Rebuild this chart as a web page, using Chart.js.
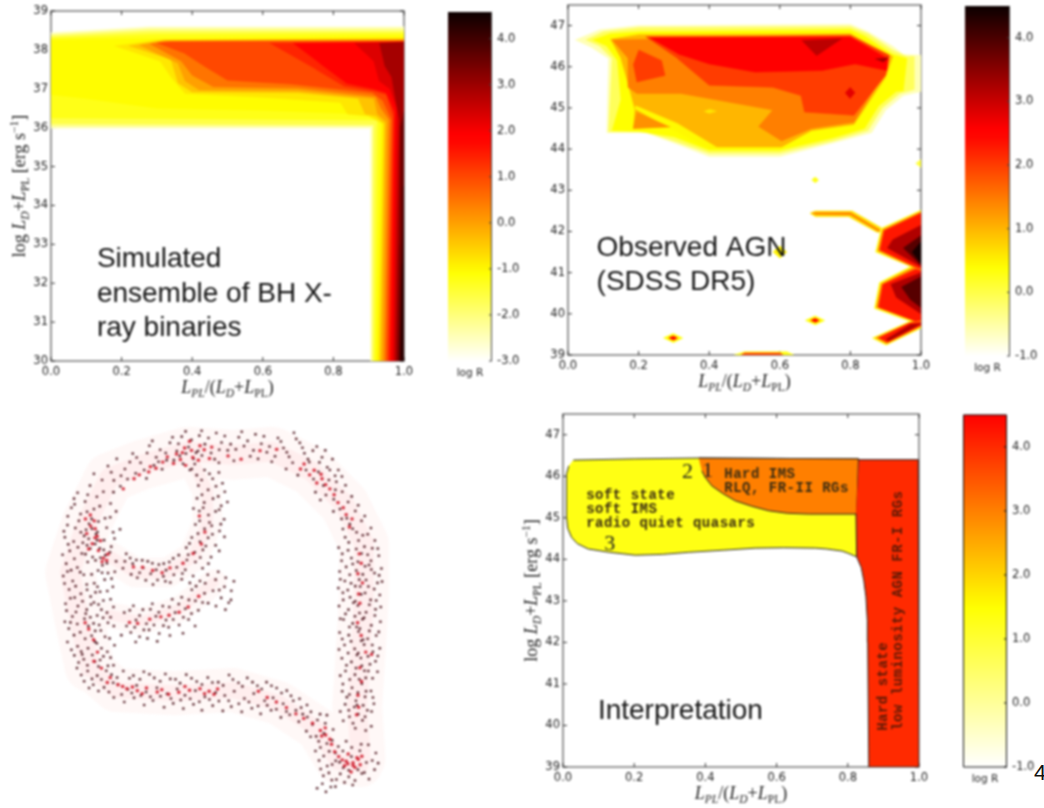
<!DOCTYPE html>
<html>
<head>
<meta charset="utf-8">
<title>log R panels</title>
<script src="https://cdn.jsdelivr.net/npm/chart.js@4/dist/chart.umd.js"></script>
<style>
    body { margin: 0; background: #fff; width: 1044px; height: 808px; overflow: hidden; position: relative; }
    canvas { position: absolute; filter: blur(0.8px); }
    #pageNo { position: absolute; left: 1034px; top: 760px; font: 22px "Liberation Sans"; color: #111; }
</style>
</head>
<body>
<div id="pageNo">4</div>
<script>
// axis ticks
const xTicks = [0, 0.2, 0.4, 0.6, 0.8, 1];
const simTicks = [30, 31, 32, 33, 34, 35, 36, 37, 38, 39];
const agnTicks = [39, 40, 41, 42, 43, 44, 45, 46, 47];
const simBarTicks = [-3, -2, -1, 0, 1, 2, 3, 4];
const agnBarTicks = [-1, 0, 1, 2, 3, 4];

// axis titles as [text, face, shift]  (shift 1 = subscript, 2 = superscript)
const xTitle = [['L', 'i', 0], ['PL', 'i', 1], ['/(', 'r', 0], ['L', 'i', 0], ['D', 'i', 1], ['+', 'r', 0], ['L', 'i', 0], ['PL', 'r', 1], [')', 'r', 0]];
const yTitle = [['log ', 'r', 0], ['L', 'i', 0], ['D', 'i', 1], ['+', 'r', 0], ['L', 'i', 0], ['PL', 'r', 1], [' [erg s', 'r', 0], ['\u22121', 'r', 2], [']', 'r', 0]];

// simulated binaries: contour level and outline (x, y, x, y, ...)
const simLevels = [-2.6, -2.1, -1.6, -1.25, -1.05, -0.8, -0.4, 0, 0.5, 1.0, 1.4, 1.8, 2.3, 2.9, 3.5, 4.2];
const simShapes = [
    [0,38.45, .28,38.6, 1,38.6, 1,30, .905,30, .905,35.98, 0,35.98],
    [0,38.4, .28,38.55, 1,38.55, 1,30, .908,30, .91,36.03, 0,36.03],
    [0,38.35, .28,38.48, 1,38.48, 1,30, .912,30, .915,36.08, 0,36.1],
    [0,38.3, .3,38.4, 1,38.42, 1,30, .917,30, .925,36.2, 0,36.25],
    [0,38.25, .2,38.28, 1,38.35, 1,30, .922,30, .935,36.25, .88,36.35, .6,36.45, .3,36.5, .1,36.75, 0,36.85],
    [.18,38.1, .3,38.25, 1,38.3, 1,30, .927,30, .94,36.1, .9,36.3, .84,36.35, .82,36.65, .6,36.78, .38,36.88, .34,37.3, .31,37.7],
    [.22,38.1, .32,38.25, 1,38.28, 1,30, .932,30, .945,36.1, .92,36.3, .89,36.35, .87,36.75, .7,36.9, .4,36.92, .36,37.15, .34,37.75],
    [.25,38.12, .32,38.23, 1,38.26, 1,30, .937,30, .95,36.15, .925,36.35, .915,36.75, .7,36.95, .42,36.97, .38,37.2, .36,37.65],
    [.28,38.15, .33,38.22, 1,38.24, 1,30, .944,30, .958,36.2, .935,36.5, .92,36.8, .7,37.02, .46,37.05, .4,37.35, .37,37.7],
    [.3,38.18, .34,38.2, 1,38.22, 1,30, .95,30, .965,36.2, .94,36.7, .91,36.9, .68,37.12, .5,37.22, .44,37.55, .38,37.9],
    [.62,38.17, 1,38.2, 1,30, .956,30, .97,36.3, .95,36.85, .913,36.95, .83,37.07, .75,37.5],
    [.686,38.17, 1,38.2, 1,30, .961,30, .974,36.4, .95,36.9, .913,37, .838,37.14, .762,37.65],
    [.86,38.17, 1,38.2, 1,30, .968,30, .98,36.5, .96,37, .93,37.2, .915,37.7],
    [.93,38.17, 1,38.2, 1,30, .975,30, .987,36.2, .965,37.3, .945,37.6],
    [.99,36, 1,36.4, 1,30, .982,30, .988,33],
    [1,34.5, 1,30, .989,30, .995,32.5]
];

// observed AGN contours
const agnLevels = [-0.6, -0.1, 0.4, 1.0, 0.45, 1.3, 1.45, 2.0, 2.0, 2.5, 3.1, 3.3, 2.8, 0.6,
    0.6, 1.4, 0.4, 2.5, 0.4, 2.5, 0.3, 0.1, 0.5, 0.3, 2.0,
    0.0, 0.5, 1.4, 2.3, 2.3, 2.3, 3.2, 3.2, 3.2, 3.9, 3.9, 4.4];
const agnShapes = [
    [.02,46.65, .09,46.9, .2,47, .8,47.03, .85,46.85, .92,46.5, .95,46.3, 1,46.28, 1,45.4, .95,45.3, .9,44.95, .86,44.4, .75,44.15, .6,43.82, .4,43.82, .3,44.15, .22,44.4, .11,44.4, .115,46.2, .07,46.45],
    [.05,46.65, .1,46.85, .2,46.95, .8,46.97, .85,46.8, .92,46.4, .96,46.25, .98,46.25, .98,45.45, .94,45.35, .89,45, .85,44.45, .75,44.2, .6,43.9, .4,43.9, .3,44.2, .22,44.42, .115,44.42, .125,46.2, .09,46.5],
    [.07,46.65, .12,46.8, .2,46.85, .8,46.9, .84,46.75, .92,46.3, .94,46.25, .96,46.2, .95,45.42, .93,45.4, .88,45.05, .84,44.5, .75,44.27, .6,43.97, .4,43.97, .3,44.3, .2,44.43, .125,44.45, .15,45.2, .14,46.15, .11,46.5],
    [.12,46.67, .2,46.78, .8,46.8, .92,46.25, .9,45.75, .81,44.6, .69,44.45, .605,44.05, .4,44.05, .29,44.55, .185,44.5, .19,44.95, .17,45.6, .15,46.2],
    [.19,45.05, .2,45.02, .31,44.62, .42,44.05, .39,44.05, .28,44.55, .19,44.98],
    [.195,44.9, .185,44.5, .29,44.54],
    [.125,46.65, .8,46.78, .91,46.25, .89,45.75, .81,44.65, .69,44.5, .605,44.2, .54,44.55, .58,44.95, .45,45.15, .32,45.35, .195,45.35, .17,45.5, .17,46.2],
    [.22,46.73, .8,46.75, .91,46.28, .9,45.8, .81,44.82, .67,44.9, .66,45.3, .58,45.5, .4,45.55, .31,46.2],
    [.2,46.41, .265,46.15, .275,45.79, .195,45.63, .185,46.07],
    [.232,46.7, .8,46.72, .907,46.19, .903,45.91, .813,46.07, .72,45.91, .53,45.87, .4,46.07, .312,46.31],
    [.662,46.64, .775,46.68, .704,46.27],
    [.87,46.19, .907,46.22, .893,46.11],
    [.785,45.37, .799,45.23, .813,45.37, .799,45.5],
    [.385,44.92, .4,44.87, .42,44.92, .4,44.97],
    [.685,42.44, .7,42.5, .805,42.5, .89,42.08, .89,41.98, .875,41.98, .795,42.36, .7,42.36],
    [.69,42.44, .7,42.46, .8,42.46, .885,42.03, .88,42, .8,42.4, .7,42.41],
    [.27,39.41, .298,39.52, .325,39.41, .298,39.3],
    [.285,39.41, .298,39.46, .31,39.41, .298,39.36],
    [.672,39.84, .7,39.95, .727,39.84, .7,39.73],
    [.687,39.84, .7,39.89, .712,39.84, .7,39.79],
    [.69,43.25, .7,43.32, .71,43.25, .7,43.18],
    [.985,43.65, 1,43.75, 1,43.55],
    [.58,41.5, .6,41.65, .62,41.5, .6,41.35],
    [.47,39, .5,39.08, .62,39.08, .64,39],
    [.49,39, .5,39.05, .6,39.05, .61,39],
    [1,42.52, .887,42.08, .871,41.5, .97,41.15, .882,40.76, .868,40.13, .967,39.82, .862,39.41, .9,39.24, 1,39.65],
    [1,42.5, .889,42.06, .874,41.51, .974,41.15, .884,40.75, .87,40.14, .974,39.82, .865,39.41, .903,39.25, 1,39.66],
    [1,42.48, .892,42.05, .878,41.53, .98,41.13, .888,40.73, .874,40.16, .98,39.83, .872,39.42, .903,39.28, 1,39.69],
    [1,42.44, .896,42.02, .884,41.55, .99,41.12, 1,41.1],
    [1,41.05, .985,41.08, .892,40.71, .88,40.16, .985,39.82, 1,39.85],
    [.88,39.42, .905,39.31, 1,39.72, 1,39.8, .965,39.77],
    [1,42.15, .92,41.8, .905,41.6, 1,41.15],
    [1,41, .915,40.72, .93,40.4, 1,40],
    [.9,39.38, .91,39.35, 1,39.76, .97,39.74],
    [1,41.9, .95,41.6, 1,41.18],
    [1,40.9, .945,40.65, .97,40.35, 1,40.15],
    [1,41.75, .975,41.5, 1,41.22]
];

// interpretation regions
const mapLevels = [1.3, 3.0, 4.0];
const mapShapes = [
    [.029,46.39, .2,46.42, .381,46.44, .6,46.43, .83,46.42, .825,44.06, .8,44.15, .784,44.2, .74,44.25, .709,44.27, .62,44.28, .54,44.27, .45,44.22, .353,44.17, .28,44.12, .203,44.1, .13,44.17, .071,44.25, .04,44.38, .024,44.53, .013,44.75, .01,45, .009,45.5, .01,46.05, .016,46.25],
    [.381,46.44, .6,46.43, .83,46.42, .825,45.09, .69,45.09, .63,45.11, .578,45.17, .53,45.28, .484,45.41, .45,45.58, .418,45.77, .4,45.97, .39,46.13],
    [.831,46.4, .998,46.4, 1,39, .859,39, .856,42, .855,42.52, .851,43.1, .845,43.49, .838,43.8, .825,44.06, .823,45.1]
];

// free text on the panels: text, x, y at baseline
const simNotes = [['Simulated', .13, 32.42], ['ensemble of BH X-', .13, 31.52], ['ray binaries', .13, 30.64]];
const agnNotes = [['Observed AGN', .081, 41.4], ['(SDSS DR5)', .081, 40.58]];
const mapNotes = [['Interpretation', .098, 40.15]];
const mapStates = [
    ['soft state', .065, 45.45], ['soft IMS', .065, 45.11], ['radio quiet quasars', .065, 44.77],
    ['Hard IMS', .453, 45.97], ['RLQ, FR-II RGs', .453, 45.61]
];
const mapStatesTurned = [['Hard state', .911, 39.87], ['low luminosity AGN FR-I RGs', .953, 39.87]];
const mapNumbers = [['2', .334, 45.97], ['1', .391, 45.99], ['3', .116, 44.23]];

// the outline figure, bands the dots follow
const hazeRing = [14,76, 11,62, 8,47, 13,32, 20,18, 30,14, 44,10, 58,11, 70,10, 82,16, 92,26, 98,38, 98,55, 97,72, 96,88, 97,104];
const hazeBase = [14,76, 22,83, 40,84, 58,83, 72,87, 84,95, 90,105, 97,106];
const hazeLoop = [45,12, 50,22, 50,32, 46,42, 38,47, 28,47, 20,42];
const hazeArm = [20,60, 30,62, 42,58, 52,50];

// dark dots
const dotsLeft = [
    10.3,22.6, 14.1,20.4, 17.8,18.7, 12.6,25.3, 16.2,23.8, 20.4,25.9, 8.4,27.2, 11.2,29.1, 15.3,27.6, 18.7,30.4, 22.1,28.3, 7.2,32.5, 9.6,33.4, 13.8,32.1, 16.4,34.6, 19.2,33.3, 23.3,33.8,
    6.4,36.2, 9.1,37.5, 12.3,35.8, 15.7,38.3, 18.4,37.1, 21.6,36.6, 7.9,40.4, 11.6,41.2, 14.2,39.7, 17.3,42.5, 20.2,40.8, 6.8,44.3, 10.2,45.5, 13.4,43.8, 16.6,46.4, 19.3,44.2, 21.7,46.8,
    5.9,48.1, 8.8,49.6, 12.2,47.7, 15.4,50.3, 18.6,49.2, 21.1,51.4, 7.7,52.2, 11.3,53.5, 14.3,54.4, 17.2,52.9, 20.4,55.2, 6.6,56.6, 10.4,57.3, 13.1,58.4, 16.7,56.8, 19.3,59.3, 8.7,60.5,
    12.4,61.2, 15.2,62.6, 18.1,60.9, 21.4,63.4, 7.6,64.2, 11.1,65.3, 14.6,66.4, 17.4,64.8, 20.1,67.2, 7.2,68.3, 10.3,69.6, 13.5,70.2, 16.2,68.7, 19.4,71.3, 9.3,72.4, 12.2,73.6, 15.6,74.3,
    18.2,72.7, 21.3,75.4, 10.1,76.3, 13.4,77.2, 16.3,78.6, 19.1,77.1, 22.4,79.2, 12.3,80.3, 15.1,81.4, 18.4,82.2, 21.2,80.8, 9.2,24.4, 11.9,37.9, 8.3,46.3, 9.4,54.7, 8.1,62.3, 11.7,72.1,
    13.2,28.4, 14.6,30.6, 15.9,35.2, 17.1,39.6, 18.8,41.7, 17.9,44.8, 13.7,36.7, 12.9,33.9, 16.7,31.4, 14.9,42.3, 19.6,47.2, 13.1,50.7, 15.8,53.1, 14.4,56.8, 16.3,60.2, 13.6,63.4, 15.7,64.9, 17.6,70.2,
    9.4,26.1, 13.4,23.2, 17.1,26.7, 21.3,22.4, 7.3,29.8, 10.7,31.2, 20.3,30.1, 6.1,34.4, 11.3,34.7, 14.7,33.6, 21.2,34.7, 7.4,38.4, 10.4,39.3, 13.2,38.7, 16.3,37.1, 20.6,39.1, 5.7,41.6, 9.3,42.8,
    12.7,41.4, 15.8,43.3, 18.3,40.1, 22.1,43.6, 7.2,46.7, 11.1,46.9, 14.6,47.6, 17.8,47.1, 20.7,48.9, 6.3,50.4, 9.7,51.2, 13.2,52.3, 16.4,51.4, 19.4,52.7, 8.1,54.9, 11.8,55.8, 15.3,56.2, 18.2,55.6,
    21.3,57.6, 6.9,58.7, 9.8,59.1, 12.8,59.6, 17.6,58.4, 20.4,60.7, 6.4,62.1, 10.2,62.8, 14.2,60.7, 16.9,63.1, 19.6,62.4, 9.2,66.2, 12.6,67.3, 15.6,68.2, 18.7,66.7, 21.6,69.3, 8.4,70.7, 11.4,71.2,
    14.8,72.3, 17.2,73.8, 20.4,73.1, 10.6,74.6, 13.3,75.4, 16.7,75.8, 19.6,75.6, 11.4,78.4, 14.7,79.6, 17.6,79.8, 20.7,78.3, 13.8,82.4, 16.7,83.3, 19.9,83.6
];
const dotsTop = [
    19.6,14.4, 22.3,12.2, 24.8,15.3, 27.2,10.6, 29.6,13.4, 32.3,8.2, 34.4,11.7, 36.2,15.4, 38.6,7.3, 40.7,9.8, 42.2,5.4, 44.3,8.6, 45.8,12.2, 47.6,5.1, 49.3,7.7, 51.2,10.4, 52.8,4.3, 54.4,7.2, 56.3,9.6, 58.2,12.8,
    59.7,5.6, 61.3,8.3, 63.2,11.4, 64.8,4.7, 66.6,7.6, 68.3,10.2, 69.8,13.1, 71.7,5.8, 73.4,8.9, 75.1,11.6, 76.6,4.2, 78.4,7.3, 79.8,10.5, 81.3,13.2, 83.6,8.4, 85.2,11.7, 86.8,14.8, 88.4,12.3, 90.2,15.6,
    25.6,18.4, 28.1,16.6, 31.4,18.2, 33.7,14.2, 21.4,18.8, 23.4,20.6, 18.2,22.3, 15.3,16.8, 42.6,13.7, 44.7,15.6, 39.8,12.6, 37.3,10.4, 35.1,13.1, 47.2,9.8, 41.6,11.3, 43.5,10.6, 46.2,13.8,
    48.4,11.2, 53.6,13.4, 74.2,15.3, 77.8,17.2, 80.3,15.6, 82.6,18.4, 84.1,16.2, 87.3,18.7, 85.6,20.4, 89.6,19.2, 83.2,22.4, 91.4,22.3, 88.8,24.6, 93.2,25.4, 95.4,28.2, 90.7,27.6, 92.8,30.4, 97.3,31.2, 94.6,33.6, 99.2,35.3, 91.6,33.7, 96.4,37.2, 93.4,37.8, 100.6,39.6, 98.2,39.1,
    20.6,16.3, 23.6,17.4, 26.3,13.2, 28.4,11.8, 30.7,15.6, 31.6,10.4, 33.2,6.7, 35.6,9.4, 37.6,12.6, 39.4,5.6, 41.2,7.6, 43.4,3.8, 45.2,6.4, 46.6,10.3, 48.3,3.6, 50.4,5.8, 52.3,12.3, 53.7,9.4, 55.4,5.2, 57.2,7.7,
    58.8,9.3, 60.6,3.9, 62.4,6.7, 64.2,9.6, 65.6,12.2, 67.4,5.3, 69.1,8.4, 70.8,11.4, 72.6,6.9, 74.4,10.2, 76.2,13.4, 77.3,6.1, 79.2,8.8, 80.9,12.3, 82.4,9.7, 84.4,13.3, 86.2,9.6, 87.6,15.6, 89.2,17.4, 91.3,17.6,
    86.4,23.3, 84.7,24.8, 89.3,21.7, 92.4,20.3, 94.3,23.7, 96.3,26.4, 88.7,28.3, 91.2,30.6, 93.7,32.2, 98.3,29.7, 95.8,34.7, 100.2,33.4, 92.3,36.2, 97.7,35.6, 101.4,37.2
];
const dotsRight = [
    91.4,41.3, 94.2,42.6, 97.3,41.2, 100.2,43.4, 102.6,41.9, 92.6,45.3, 95.7,46.4, 98.4,45.1, 101.3,47.2, 103.4,45.8, 90.8,49.1, 94.1,50.3, 96.6,49.2, 99.4,51.3, 102.2,50.2, 91.6,53.2, 93.8,54.6, 97.2,53.7,
    100.1,55.4, 102.9,53.9, 90.4,57.3, 93.3,58.4, 96.2,57.1, 98.7,59.2, 101.6,58.3, 91.8,61.4, 94.6,62.6, 97.6,61.3, 100.3,63.2, 103.1,62.1, 90.6,65.4, 93.4,66.2, 96.4,65.1, 99.2,67.3, 101.8,66.3,
    92.1,69.2, 95.2,70.4, 98.1,69.1, 100.8,71.3, 102.9,70.2, 91.3,73.3, 94.2,74.4, 97.1,73.2, 99.9,75.1, 101.6,74.2, 92.4,77.2, 95.3,78.3, 98.2,77.1, 100.7,79.4, 91.6,81.2, 94.4,82.3, 97.4,81.1,
    100.2,83.3, 92.8,85.2, 95.6,86.3, 98.4,85.1, 101.1,87.2, 93.4,89.2, 96.3,90.4, 99.1,89.2, 91.7,92.4, 94.7,93.2, 97.6,92.3, 100.3,94.1, 96.2,43.7, 97.7,47.6, 96.9,51.3, 95.4,55.8, 96.7,59.4, 95.8,63.7, 97.8,67.6, 96.3,71.7, 97.4,75.6, 96.6,79.7, 96.2,83.8, 95.9,87.6,
    90.3,39.4, 93.2,40.2, 95.7,39.8, 99.2,41.6, 102.3,39.7, 91.2,43.4, 94.6,44.4, 99.6,44.7, 90.6,46.7, 93.7,47.7, 100.3,46.1, 102.7,47.9, 92.2,49.6, 95.4,51.2, 98.7,49.3, 101.2,52.1, 103.6,49.8, 90.2,51.8, 93.1,52.4,
    98.4,53.3, 101.8,55.6, 91.7,55.4, 94.8,56.3, 99.7,56.9, 103.2,57.6, 92.4,59.7, 95.3,60.4, 98.1,60.9, 101.4,60.2, 90.8,61.2, 93.6,63.7, 96.8,64.2, 99.7,64.9, 102.6,65.2, 91.4,67.4, 94.1,68.1, 97.2,67.9, 100.6,69.2,
    90.4,70.6, 93.2,71.7, 95.9,72.3, 99.3,72.7, 102.3,72.6, 92.7,75.4, 95.6,76.3, 99.4,77.2, 102.2,77.4, 90.8,78.6, 93.7,79.8, 98.6,79.3, 91.4,83.4, 93.6,84.4, 98.7,83.4, 100.8,85.3, 92.3,87.4, 95.1,88.2, 97.8,87.7, 100.4,89.6, 90.8,89.6, 93.6,91.2, 98.4,91.2, 95.4,94.7, 98.6,95.4
];
const dotsBase = [
    24.3,77.2, 27.4,78.6, 30.6,77.4, 33.8,79.3, 37.2,78.1, 40.3,79.7, 43.6,78.3, 46.8,80.4, 50.2,79.2, 53.4,80.6, 56.7,78.4, 59.6,80.8, 62.3,79.3, 65.4,81.7, 68.2,80.6, 71.3,82.4, 74.4,83.2,
    22.6,81.3, 25.7,82.8, 28.4,81.6, 31.3,83.6, 34.6,82.3, 37.7,84.2, 40.8,82.7, 43.2,84.6, 46.4,83.2, 49.3,85.1, 52.6,83.8, 55.4,84.7, 58.3,83.4, 61.4,85.6, 64.3,84.1, 67.6,86.3, 70.2,85.4, 73.3,87.2, 76.4,86.3, 78.8,88.4,
    21.4,85.3, 24.6,86.7, 27.6,85.4, 30.7,87.6, 33.4,86.2, 36.8,88.3, 39.6,87.1, 42.7,88.7, 45.8,87.4, 48.4,89.2, 51.7,87.8, 54.8,89.4, 57.4,88.1, 60.6,89.7, 63.7,88.6, 66.4,90.3, 69.6,89.2, 72.6,91.4,
    75.3,90.6, 78.1,92.7, 80.7,91.3, 82.3,93.6, 84.6,90.4, 86.2,93.2, 80.4,95.6, 83.4,97.2, 85.8,96.3, 88.3,98.4, 84.7,100.6, 87.4,101.8, 90.2,100.3, 92.6,98.7, 84.3,104.6, 86.8,106.3, 89.4,104.7,
    91.7,106.8, 94.2,103.4, 96.8,101.6, 99.4,99.8, 101.7,102.3, 85.6,109.3, 88.2,110.6, 90.8,108.7, 93.4,109.6, 96.2,107.4, 98.8,105.2, 101.3,107.4, 83.7,113.1, 86.4,114.2, 89.3,112.6, 94.6,112.1, 99.6,110.3,
    26.2,79.4, 29.4,79.7, 32.3,78.2, 35.6,80.3, 38.7,79.6, 41.7,80.9, 45.2,79.4, 48.4,81.3, 51.6,80.7, 54.9,81.6, 57.9,79.8, 60.8,81.9, 63.9,80.6, 66.7,82.7, 69.7,81.7, 72.8,83.9, 75.7,84.8, 78.3,85.7, 80.6,87.6,
    23.8,84.4, 26.9,83.9, 29.7,84.7, 32.6,85.1, 35.7,84.9, 38.9,85.6, 41.9,86.1, 44.8,85.7, 47.6,86.6, 50.7,85.9, 53.6,86.4, 56.6,86.3, 59.7,87.2, 62.8,86.7, 65.6,87.9, 68.4,87.7, 71.2,88.9, 74.3,89.6, 77.2,89.2,
    79.3,90.4, 81.8,89.7, 83.8,92.2, 86.7,90.7, 88.6,95.1, 81.7,97.3, 84.2,98.7, 86.7,99.4, 89.3,102.3, 91.6,101.7, 94.3,100.6, 97.2,99.6, 83.2,101.7, 85.7,103.2, 88.3,105.8, 90.6,105.1, 93.4,107.6, 97.4,108.6,
    100.6,104.6, 84.8,107.2, 87.3,108.4, 89.6,110.4, 92.1,111.3, 95.3,110.7, 98.2,108.3, 102.4,105.4, 85.3,111.7, 87.9,112.7
];
const dotsLoop = [
    46.8,17.2, 49.2,15.6, 51.7,18.3, 53.6,16.4, 47.3,20.4, 50.3,21.7, 52.7,20.6, 55.4,22.3, 46.9,24.3, 49.1,25.6, 51.8,24.4, 54.3,26.6, 47.6,28.2, 50.4,29.4, 52.6,28.3, 55.2,30.7, 46.4,32.3, 49.2,33.6, 51.4,32.7,
    53.8,34.3, 45.3,36.3, 47.8,37.6, 50.3,36.4, 52.6,38.7, 43.6,39.4, 46.2,40.8, 48.7,40.1, 51.2,42.3, 41.3,41.7, 43.8,43.2, 46.4,43.8, 48.6,45.7, 38.4,43.8, 40.7,45.4, 43.3,46.2, 45.7,48.1, 35.2,44.6, 37.4,46.3,
    39.8,47.7, 42.2,49.1, 31.8,43.6, 34.4,46.2, 36.6,48.2, 38.7,50.1, 28.3,43.2, 30.4,45.6, 32.7,47.4, 34.8,49.3, 25.2,41.3, 27.2,44.3, 29.3,47.1, 31.2,49.4, 24.2,45.7, 26.7,47.6,
    45.3,15.3, 48.3,18.7, 50.7,16.8, 54.7,19.7, 48.4,23.2, 53.4,23.7, 45.8,27.4, 48.8,27.2, 53.7,27.8, 56.2,25.4, 47.7,31.2, 50.7,31.7, 54.2,32.2, 47.2,35.1, 51.6,35.3, 55.3,36.1, 44.6,38.1, 49.6,38.9, 53.7,40.4,
    44.2,41.6, 47.9,42.4, 50.4,44.3, 39.6,42.7, 42.4,47.3, 36.7,44.3, 44.7,50.2, 33.2,44.2, 30.1,43.3, 37.2,49.7, 33.4,50.7, 26.4,42.6, 28.6,48.6, 24.8,43.6
];
const dotsArm = [
    24.6,59.3, 27.4,57.2, 30.3,58.4, 33.2,56.6, 36.4,57.3, 39.3,55.2, 42.2,54.6, 45.3,52.3, 47.8,49.6, 50.2,47.7, 52.6,49.2, 55.3,51.4, 57.4,52.6, 25.3,63.4, 28.2,61.6, 31.4,62.7, 34.3,60.4, 37.4,61.6, 40.2,59.3,
    43.3,58.1, 46.4,55.7, 49.2,53.4, 51.8,52.6, 54.3,54.8, 56.6,56.3, 23.7,66.2, 26.6,65.4, 29.3,66.7, 32.2,64.6, 35.3,65.7, 38.2,63.8, 41.4,63.1, 44.3,61.4, 47.3,58.6, 50.3,56.4, 52.7,57.3, 55.6,58.4,
    26.3,58.6, 29.3,60.2, 32.6,58.3, 35.2,59.2, 38.4,57.6, 41.3,56.7, 44.4,55.4, 46.6,51.2, 49.4,50.3, 53.4,46.8, 55.7,48.6, 58.2,49.7, 27.8,63.8, 30.6,64.6, 33.7,63.1, 36.6,63.3, 39.6,61.4, 42.7,60.7, 45.2,59.6,
    48.6,56.2, 53.7,52.4, 57.3,55.4, 28.1,68.3, 31.7,67.2, 34.7,68.1, 38.6,66.3, 42.6,65.6, 46.3,63.4
];

// red core of the strands
const coreDots = [
    12.7,30.6, 14.3,32.8, 13.1,35.1, 15.6,36.4, 14.8,38.2, 16.7,40.3, 18.2,42.6, 15.4,31.2, 17.3,37.3, 19.2,43.3, 12.6,62.4, 13.7,64.3, 15.2,67.6, 16.4,71.4, 15.3,74.2, 17.6,76.3, 20.3,79.2, 22.7,81.4, 25.4,82.6, 28.6,83.2,
    31.4,82.4, 34.7,83.6, 38.2,84.3, 41.3,83.7, 44.6,83.1, 47.8,82.6, 50.6,83.4, 53.2,82.7, 65.7,83.4, 68.4,85.3, 71.2,86.7, 74.3,88.4, 77.2,90.3, 79.6,91.7, 82.3,93.2, 84.7,95.4, 86.3,96.8, 87.6,98.1,
    90.3,103.4, 92.6,104.8, 94.7,105.3, 96.3,104.2, 93.2,102.6, 95.3,106.7, 97.4,103.3, 92.1,106.2, 24.3,21.4, 27.6,18.3, 29.2,17.1, 32.6,14.6, 36.4,13.2, 39.7,13.6, 41.8,12.4, 43.4,14.2, 45.6,11.8, 47.3,12.6,
    42.4,10.3, 44.6,6.8, 49.1,9.4, 51.4,8.6, 56.4,11.3, 60.4,12.3, 66.2,9.7, 71.3,9.3, 78.6,15.3, 81.4,17.1, 83.6,19.6, 85.2,18.3, 87.6,21.4, 90.1,25.6, 91.7,27.2, 92.6,29.3, 94.4,30.6,
    96.6,41.3, 97.2,44.2, 96.2,47.4, 97.6,50.2, 96.4,53.6, 96.8,56.4, 96.1,62.4, 97.2,66.3, 98.6,71.4, 100.4,72.1, 96.8,76.2, 97.3,80.4, 96.2,84.6, 96.4,88.3, 95.8,90.6,
    47.6,29.7, 49.3,34.6, 48.2,38.3, 45.7,41.2, 42.6,44.2, 38.6,45.6, 36.2,47.1, 33.3,46.4, 30.2,45.4, 27.4,45.3, 26.2,62.3, 28.7,62.6, 32.4,61.3, 35.8,60.6, 38.3,60.1, 41.4,59.2, 44.2,57.6, 47.4,54.3,
    14.2,29.4, 15.7,33.6, 16.3,35.9, 13.7,39.8, 17.8,43.7, 19.6,41.4, 32.1,16.2, 34.3,15.1, 37.8,11.6, 40.6,10.7, 43.1,8.9, 45.2,9.6, 47.8,8.2, 50.7,12.1, 79.7,13.8, 82.8,15.7, 84.9,16.9, 86.3,20.1, 88.9,23.2, 93.6,33.1,
    94.7,106.1, 93.1,105.6, 95.9,103.7, 91.4,104.4, 96.9,105.9, 94.1,108.1, 86.2,94.6, 85.1,97.1, 88.1,99.6, 89.1,101.9, 19.4,80.7, 24.1,81.9, 27.1,82.1, 30.1,84.1, 36.1,82.9, 43.2,81.9, 49.2,84.1, 52.1,84.3
];

// matplotlib "hot" running the other way, white at the low end
function hotColor(value, low, high) {
    const t = 1 - (value - low) / (high - low);
    const r = Math.min(1, 0.0416 + t / 0.365);
    const g = Math.max(0, Math.min(1, (t - 0.365) / 0.381));
    const b = Math.max(0, (t - 0.746) / 0.254);
    return `rgb(${Math.round(r * 255)},${Math.round(g * 255)},${Math.round(b * 255)})`;
}

// white to yellow to red, as used by the interpretation panel
function warmColor(value, low, high) {
    const t = (value - low) / (high - low);
    const g = t < 0.4545 ? 1 : 1 - (t - 0.4545) / 0.5455;
    const b = t < 0.4545 ? 1 - t / 0.4545 : 0;
    return `rgb(255,${Math.round(g * 255)},${Math.round(b * 255)})`;
}

function toPoints(flat) {
    const points = [];
    for (let i = 0; i < flat.length; i += 2) {
        points.push({ x: flat[i], y: flat[i + 1] });
    }
    return points;
}

function addCanvas(left, top, width, height) {
    const canvas = document.createElement('canvas');
    canvas.width = width;
    canvas.height = height;
    canvas.style.left = left + 'px';
    canvas.style.top = top + 'px';
    canvas.style.width = width + 'px';
    canvas.style.height = height + 'px';
    document.body.appendChild(canvas);
    return canvas.getContext('2d');
}

function drawMath(ctx, parts, size) {
    const faceOf = (part) => {
        const px = part[2] ? size * 0.64 : size;
        return `${part[1] === 'i' ? 'italic ' : ''}${px}px "Liberation Serif"`;
    };
    let total = 0;
    parts.forEach(part => { ctx.font = faceOf(part); total += ctx.measureText(part[0]).width; });
    let pen = -total / 2;
    ctx.fillStyle = '#222';
    ctx.textAlign = 'left';
    ctx.textBaseline = 'alphabetic';
    parts.forEach(part => {
        ctx.font = faceOf(part);
        const shift = part[2] === 1 ? size * 0.2 : part[2] === 2 ? -size * 0.38 : 0;
        ctx.fillText(part[0], pen, shift);
        pen += ctx.measureText(part[0]).width;
    });
}

// frame and inward ticks under the contours, so that the fills cover them as in the original
const framePlugin = {
    id: 'frame',
    beforeDatasetsDraw(chart) {
        const { ctx, chartArea: a, scales } = chart;
        ctx.save();
        ctx.strokeStyle = '#333';
        ctx.lineWidth = 1;
        ctx.strokeRect(a.left, a.top, a.width, a.height);
        ctx.beginPath();
        scales.x.ticks.forEach(t => {
            const p = scales.x.getPixelForValue(t.value);
            ctx.moveTo(p, a.bottom); ctx.lineTo(p, a.bottom - 4);
            ctx.moveTo(p, a.top); ctx.lineTo(p, a.top + 4);
        });
        scales.y.ticks.forEach(t => {
            const p = scales.y.getPixelForValue(t.value);
            ctx.moveTo(a.left, p); ctx.lineTo(a.left + 4, p);
            ctx.moveTo(a.right, p); ctx.lineTo(a.right - 4, p);
        });
        ctx.stroke();
        ctx.restore();
    }
};

// text placed through the scales, on top of everything
function textPlugin(panel) {
    return {
        id: 'panelText',
        afterDraw(chart) {
            const { ctx, chartArea: a, scales } = chart;
            ctx.save();
            ctx.textBaseline = 'alphabetic';
            ctx.textAlign = 'left';
            ctx.fillStyle = '#151515';
            ctx.font = '28px "Liberation Sans"';
            panel.notes.forEach(n => ctx.fillText(n[0], scales.x.getPixelForValue(n[1]), scales.y.getPixelForValue(n[2])));
            if (panel.map) {
                ctx.fillStyle = '#3a2c12';
                ctx.font = 'bold 14px "Liberation Mono"';
                ctx.letterSpacing = '0.5px';
                mapStates.forEach(n => ctx.fillText(n[0], scales.x.getPixelForValue(n[1]), scales.y.getPixelForValue(n[2])));
                mapStatesTurned.forEach(n => {
                    ctx.save();
                    ctx.translate(scales.x.getPixelForValue(n[1]), scales.y.getPixelForValue(n[2]));
                    ctx.rotate(-Math.PI / 2);
                    ctx.fillStyle = '#5c1a06';
                    ctx.fillText(n[0], 0, 0);
                    ctx.restore();
                });
                ctx.letterSpacing = '0px';
                ctx.fillStyle = '#222';
                ctx.font = '22px "Liberation Serif"';
                mapNumbers.forEach(n => ctx.fillText(n[0], scales.x.getPixelForValue(n[1]), scales.y.getPixelForValue(n[2])));
            }
            ctx.save();
            ctx.translate((a.left + a.right) / 2, a.bottom + 32);
            drawMath(ctx, xTitle, 18);
            ctx.restore();
            if (panel.yTitle) {
                ctx.save();
                ctx.translate(a.left - 26, (a.top + a.bottom) / 2);
                ctx.rotate(-Math.PI / 2);
                drawMath(ctx, yTitle, 18);
                ctx.restore();
            }
            ctx.restore();
        }
    };
}

function contourPanel(panel) {
    const margin = { left: 52, right: 22, top: 11, bottom: 44 };
    const box = panel.box;
    const width = box.right - box.left + margin.left + margin.right;
    const height = box.bottom - box.top + margin.top + margin.bottom;
    const ctx = addCanvas(box.left - margin.left, box.top - margin.top, width, height);
    const datasets = panel.shapes.map((flat, i) => ({
        data: toPoints(flat),
        showLine: true,
        fill: 'shape',
        tension: 0,
        pointRadius: 0,
        order: panel.shapes.length - i,
        backgroundColor: panel.color(panel.levels[i]),
        borderColor: panel.map ? '#222' : panel.color(panel.levels[i]),
        borderWidth: panel.map ? 1 : 0.5
    }));
    const tickFont = { family: 'DejaVu Sans', size: 11.5 };
    return new Chart(ctx, {
        type: 'scatter',
        data: { datasets },
        plugins: [framePlugin, textPlugin(panel)],
        options: {
            responsive: false,
            animation: false,
            devicePixelRatio: 1,
            layout: { padding: { top: margin.top, right: margin.right, left: 0, bottom: 0 } },
            plugins: { legend: { display: false }, tooltip: { enabled: false } },
            scales: {
                x: {
                    type: 'linear', min: 0, max: 1,
                    afterBuildTicks: s => { s.ticks = xTicks.map(v => ({ value: v })); },
                    afterFit: s => { s.height = margin.bottom; },
                    grid: { display: false, drawTicks: false },
                    border: { display: false },
                    ticks: { color: '#222', font: tickFont, padding: 4, maxRotation: 0, callback: v => v.toFixed(1) }
                },
                y: {
                    type: 'linear', min: panel.yMin, max: panel.yMax,
                    afterBuildTicks: s => { s.ticks = panel.yTicks.map(v => ({ value: v })); },
                    afterFit: s => { s.width = margin.left; },
                    grid: { display: false, drawTicks: false },
                    border: { display: false },
                    ticks: { color: '#222', font: tickFont, padding: 3, callback: v => String(v) }
                }
            }
        }
    });
}

function colorBar(bar) {
    const margin = { right: 36, top: 11, bottom: 30 };
    const box = bar.box;
    const ctx = addCanvas(box.left, box.top - margin.top, box.right - box.left + margin.right, box.bottom - box.top + margin.top + margin.bottom);
    const fillBar = (c) => {
        const area = c.chart.chartArea;
        if (!area) return '#fff';
        const grad = c.chart.ctx.createLinearGradient(0, area.bottom, 0, area.top);
        for (let i = 0; i <= 40; i++) {
            grad.addColorStop(i / 40, bar.color(bar.min + (bar.max - bar.min) * i / 40));
        }
        return grad;
    };
    const spines = {
        id: 'spines',
        afterDatasetsDraw(chart) {
            const { ctx: g, chartArea: a, scales } = chart;
            g.save();
            g.strokeStyle = bar.boxed ? '#111' : '#444';
            g.lineWidth = 1;
            g.beginPath();
            if (bar.boxed) {
                g.rect(a.left + 0.5, a.top, a.width - 1, a.height);
            } else {
                g.moveTo(a.right - 0.5, a.top); g.lineTo(a.right - 0.5, a.bottom);
            }
            scales.y.ticks.forEach(t => {
                const p = scales.y.getPixelForValue(t.value);
                g.moveTo(a.right, p); g.lineTo(a.right - 3, p);
            });
            g.stroke();
            g.restore();
        }
    };
    return new Chart(ctx, {
        type: 'bar',
        data: {
            labels: ['log R'],
            datasets: [{ data: [[bar.min, bar.max]], backgroundColor: fillBar, barPercentage: 1, categoryPercentage: 1 }]
        },
        plugins: [spines],
        options: {
            responsive: false,
            animation: false,
            devicePixelRatio: 1,
            layout: { padding: { top: margin.top, left: 0, right: 0, bottom: 0 } },
            plugins: { legend: { display: false }, tooltip: { enabled: false } },
            scales: {
                x: {
                    afterFit: s => { s.height = margin.bottom; },
                    grid: { display: false, drawTicks: false },
                    border: { display: false },
                    ticks: { color: '#222', font: { family: 'DejaVu Sans', size: 10.5 }, padding: 6 }
                },
                y: {
                    position: 'right', min: bar.min, max: bar.max,
                    afterBuildTicks: s => { s.ticks = bar.ticks.map(v => ({ value: v })); },
                    afterFit: s => { s.width = margin.right; },
                    grid: { display: false, drawTicks: false },
                    border: { display: false },
                    ticks: { color: '#222', font: { family: 'DejaVu Sans', size: 11.5 }, padding: 5, callback: v => v.toFixed(1) }
                }
            }
        }
    });
}

function dotPanel() {
    const ctx = addCanvas(40, 415, 380, 390);
    const haze = (flat, width, color) => ({
        data: toPoints(flat), showLine: true, tension: 0, pointRadius: 0,
        borderColor: color, borderWidth: width, borderJoinStyle: 'round', borderCapStyle: 'round'
    });
    const dots = (flat, color, radius) => ({
        data: toPoints(flat), showLine: false, pointRadius: radius, pointBorderWidth: 0,
        pointBackgroundColor: color
    });
    const sets = [
        haze(hazeRing, 50, '#fff8f7'), haze(hazeBase, 44, '#fff8f7'), haze(hazeLoop, 30, '#fff8f7'), haze(hazeArm, 26, '#fff8f7'),
        haze(hazeRing, 20, '#ffeeee'), haze(hazeBase, 16, '#ffeeee'), haze(hazeLoop, 12, '#ffeeee'), haze(hazeArm, 10, '#ffeeee'),
        dots(dotsLeft, '#4e1820', 1.3), dots(dotsTop, '#4e1820', 1.3), dots(dotsRight, '#4e1820', 1.3),
        dots(dotsBase, '#4e1820', 1.3), dots(dotsLoop, '#4e1820', 1.3), dots(dotsArm, '#4e1820', 1.3),
        dots(coreDots, '#cf2030', 1.7)
    ];
    sets.forEach((s, i) => { s.order = sets.length - i; });
    return new Chart(ctx, {
        type: 'scatter',
        data: { datasets: sets },
        options: {
            responsive: false,
            animation: false,
            devicePixelRatio: 1,
            plugins: { legend: { display: false }, tooltip: { enabled: false } },
            scales: {
                x: { type: 'linear', display: false, min: 0, max: 114 },
                y: { type: 'linear', display: false, min: 0, max: 117, reverse: true }
            }
        }
    });
}

const hotSim = v => hotColor(v, -3, 4.58);
const hotAgn = v => hotColor(v, -1, 4.5);
const warm = v => warmColor(v, -1, 4.5);

contourPanel({ box: { left: 51, right: 404, top: 11, bottom: 361 }, yMin: 30, yMax: 39, yTicks: simTicks, levels: simLevels, shapes: simShapes, color: hotSim, notes: simNotes, yTitle: true });
contourPanel({ box: { left: 568, right: 921, top: 5, bottom: 355 }, yMin: 39, yMax: 47.5, yTicks: agnTicks, levels: agnLevels, shapes: agnShapes, color: hotAgn, notes: agnNotes });
contourPanel({ box: { left: 563, right: 919, top: 414, bottom: 767 }, yMin: 39, yMax: 47.5, yTicks: agnTicks, levels: mapLevels, shapes: mapShapes, color: warm, notes: mapNotes, yTitle: true, map: true });

colorBar({ box: { left: 448, right: 492, top: 11, bottom: 361 }, min: -3, max: 4.58, ticks: simBarTicks, color: hotSim });
colorBar({ box: { left: 965, right: 1010, top: 5, bottom: 356 }, min: -1, max: 4.5, ticks: agnBarTicks, color: hotAgn });
colorBar({ box: { left: 963, right: 1007, top: 414, bottom: 767 }, min: -1, max: 4.5, ticks: agnBarTicks, color: warm, boxed: true });

dotPanel();
</script>
</body>
</html>
